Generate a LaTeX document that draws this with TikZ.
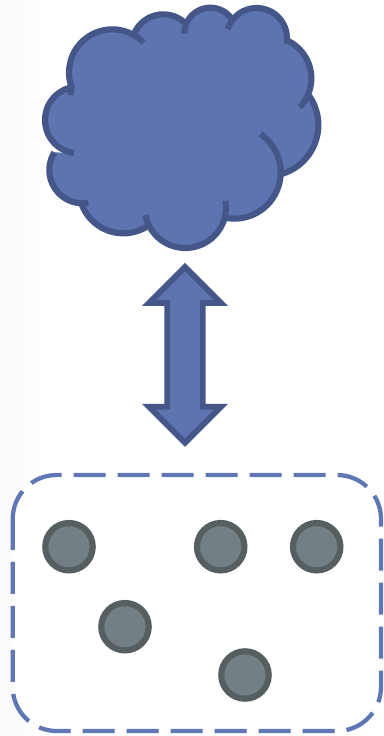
\documentclass[tikz,border=0pt]{standalone}
\definecolor{cloudfill}{HTML}{5D74B1}
\definecolor{cloudline}{HTML}{445788}
\definecolor{groupline}{HTML}{5F78B5}
\definecolor{dotfill}{HTML}{737F83}
\definecolor{dotline}{HTML}{555E60}
\tikzset{
  lobe/.style={draw=cloudline,line width=4.6pt,line cap=butt,line join=round},
  dotnode/.style={circle,draw=dotline,fill=dotfill,line width=4.6pt,inner sep=0pt,minimum size=35.6pt},
  arrowshape/.style={draw=cloudline,fill=cloudfill,line width=4.3pt,miter limit=10},
  groupbox/.style={draw=groupline,line width=3.2pt,dash pattern=on 24pt off 9pt,fill=white}
}
\newcommand{\arcpiece}[5]{plot[domain=#4:#5,samples=40,variable=\t] ({#1+#3*cos(\t)},{#2+#3*sin(\t)})}
\newcommand{\arcnext}[5]{-- plot[domain=#4:#5,samples=40,variable=\t] ({#1+#3*cos(\t)},{#2+#3*sin(\t)})}
\begin{document}
\begin{tikzpicture}[x=0.75pt,y=-0.75pt]
\useasboundingbox (0,0) rectangle (383,736);
\fill[white] (0,0) rectangle (383,736);
\shade[left color=black!2,right color=white] (0,0) rectangle (42,736);
% cloud
\begin{scope}[shift={(22.5pt,0pt)},x=0.25pt,y=-0.25pt]
\fill[cloudfill]
     \arcpiece{145}{360}{100}{255}{97.5}
     \arcnext{158}{510}{100}{212}{80}
     \arcnext{280}{567}{133}{160}{56.4}
     \arcnext{466}{622}{122}{169}{-9.3}
     \arcnext{613}{517}{139}{102}{-55.5}
     \arcnext{712}{375}{153}{73.7}{-35}
     \arcnext{719}{235}{125}{43.7}{-65.7}
     \arcnext{680}{115}{91}{10.7}{-162.4}
     \arcnext{541}{101}{78}{-38.5}{-180}
     \arcnext{400}{138}{95}{-42}{-160}
     \arcnext{247}{218}{130}{-44}{-200} -- (122,285) -- cycle;
\draw[lobe] \arcpiece{145}{360}{100}{255}{97.5};
\draw[lobe] \arcpiece{158}{510}{100}{212}{80};
\draw[lobe] \arcpiece{280}{567}{133}{160}{56.4};
\draw[lobe] \arcpiece{466}{622}{122}{169}{-9.3};
\draw[lobe] \arcpiece{613}{517}{139}{102}{-55.5};
\draw[lobe] \arcpiece{712}{375}{153}{73.7}{-35};
\draw[lobe] \arcpiece{719}{235}{125}{43.7}{-65.7};
\draw[lobe] \arcpiece{680}{115}{91}{10.7}{-162.4};
\draw[lobe] \arcpiece{541}{101}{78}{-38.5}{-180};
\draw[lobe] \arcpiece{400}{138}{95}{-42}{-160};
\draw[lobe] \arcpiece{247}{218}{130}{-44}{-200} -- (122,285);
\end{scope}
% double arrow
\draw[arrowshape] (185,267) -- (221,303) -- (202.7,303) -- (202.7,406.7) -- (221,406.7)
  -- (185,442.7) -- (149,406.7) -- (167.3,406.7) -- (167.3,303) -- (149,303) -- cycle;
% dashed group
\draw[groupbox] (12.7,517) -- (12.7,519)
  .. controls (12.7,494.7) and (32.4,475) .. (56.7,475) -- (337,475)
  .. controls (361.3,475) and (381,494.7) .. (381,519) -- (381,687)
  .. controls (381,711.3) and (361.3,731) .. (337,731) -- (56.7,731)
  .. controls (32.4,731) and (12.7,711.3) .. (12.7,687) -- cycle;
% dots
\node[dotnode] (d1) at (69,546.7) {};
\node[dotnode] (d2) at (220.7,546.7) {};
\node[dotnode] (d3) at (316.7,546.7) {};
\node[dotnode] (d4) at (125,626.7) {};
\node[dotnode] (d5) at (245,675) {};
\end{tikzpicture}
\end{document}
